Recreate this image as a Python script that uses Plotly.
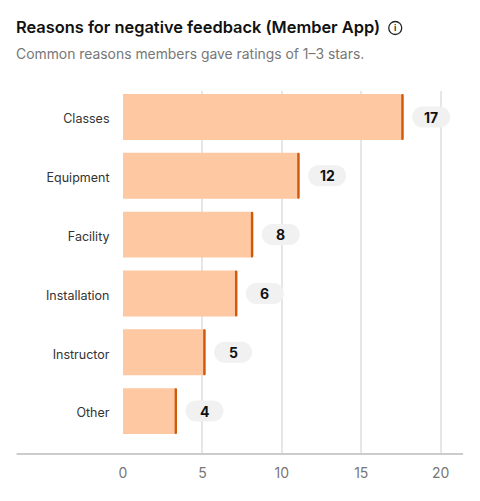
import plotly.graph_objects as go

categories = ["Classes", "Equipment", "Facility", "Installation", "Instructor", "Other"]
bar_values = [17.67, 11.12, 8.2, 7.2, 5.2, 3.4]
labels = ["17", "12", "8", "6", "5", "4"]
cap_width = 0.15

W, H = 480, 501
L, R, T, B = 123.3, 17, 91, 47
plot_w = W - L - R
plot_h = H - T - B
px = lambda x: (x - L) / plot_w
py = lambda y: (H - B - y) / plot_h

FONT = "Inter"
fig = go.Figure()
fig.add_trace(go.Bar(y=categories, x=bar_values, orientation="h", width=0.78,
                     marker=dict(color="#FEC8A3", line_width=0, cornerradius=2),
                     hoverinfo="skip"))
fig.add_trace(go.Bar(y=categories, x=[cap_width] * len(categories),
                     base=[v - cap_width for v in bar_values], orientation="h", width=0.78,
                     marker=dict(color="#CF5A0C", line_width=0, cornerradius=1),
                     hoverinfo="skip"))

K = 0.5523


def rounded(cx, hw, r):
    """Closed pill path (pixels, relative to the anchor) drawn with cubic curves."""
    a, b = cx - hw, cx + hw
    c = r * K
    return (f"M {a} {-r} L {b} {-r} "
            f"C {b+c} {-r} {b+r} {-c} {b+r} 0 C {b+r} {c} {b+c} {r} {b} {r} "
            f"L {a} {r} "
            f"C {a-c} {r} {a-r} {c} {a-r} 0 C {a-r} {-c} {a-c} {-r} {a} {-r} Z")


pill_w, pill_h, pill_off = 38, 21, 27.5
r = pill_h / 2
hw = pill_w / 2 - r
shapes = []
annotations = []
for i, (v, t) in enumerate(zip(bar_values, labels)):
    shapes.append(dict(type="path", xref="x", yref="y", xsizemode="pixel", ysizemode="pixel",
                       xanchor=v, yanchor=categories[i],
                       path=rounded(pill_off, hw, r),
                       fillcolor="#F1F1F1", line_width=0, layer="above"))
    annotations.append(dict(x=v, y=categories[i], xref="x", yref="y", text=t, showarrow=False,
                            xshift=pill_off, font=dict(family=FONT, size=14, color="#111", weight=700)))

# baseline running past the plot on the left
shapes.append(dict(type="line", xref="paper", yref="paper", x0=px(17), x1=1, y0=0, y1=0,
                   line=dict(color="#CCCCCC", width=2), layer="above"))
# info icon
shapes.append(dict(type="path", xref="paper", yref="paper", xsizemode="pixel", ysizemode="pixel",
                   xanchor=px(395.3), yanchor=py(28), path=rounded(0, 0, 6.5),
                   fillcolor="rgba(0,0,0,0)", line=dict(color="#222", width=1.3)))
annotations.append(dict(x=px(395.3), y=py(28), xref="paper", yref="paper", text="i", showarrow=False,
                        xanchor="center", yanchor="middle",
                        font=dict(family=FONT, size=9, color="#222", weight=600)))
annotations.append(dict(x=px(16), y=py(27.5), xref="paper", yref="paper", xanchor="left", yanchor="middle",
                        text="Reasons for negative feedback (Member App)", showarrow=False,
                        xshift=-2,
                        font=dict(family=FONT, size=16.4, color="#111", weight=600)))
annotations.append(dict(x=px(16), y=py(54.5), xref="paper", yref="paper", xanchor="left", yanchor="middle",
                        text="Common reasons members gave ratings of 1–3 stars.", showarrow=False,
                        xshift=-2,
                        font=dict(family=FONT, size=13.9, color="#777")))

fig.update_layout(
    width=W, height=H, margin=dict(l=L, r=R, t=T, b=B, pad=0),
    paper_bgcolor="white", plot_bgcolor="white", showlegend=False, barmode="overlay",
    shapes=shapes, annotations=annotations,
    xaxis=dict(range=[0, (W - R - L) / 15.87], tickvals=[0, 5, 10, 15, 20], showgrid=True,
               gridcolor="#E6E6E6", gridwidth=1.5, zeroline=False, showline=False,
               ticks="outside", ticklen=6, tickcolor="rgba(0,0,0,0)",
               tickfont=dict(family=FONT, size=14, color="#777")),
    yaxis=dict(range=[5.73, -0.442], type="category", categoryorder="array", categoryarray=categories,
               showgrid=False, zeroline=False, showline=False,
               ticks="outside", ticklen=10, tickcolor="rgba(0,0,0,0)", ticklabelshift=-2,
               tickfont=dict(family=FONT, size=12.5, color="#333")),
)
fig.write_html("out.html", config=dict(displayModeBar=False),
               post_script="document.body.style.margin='0';")
